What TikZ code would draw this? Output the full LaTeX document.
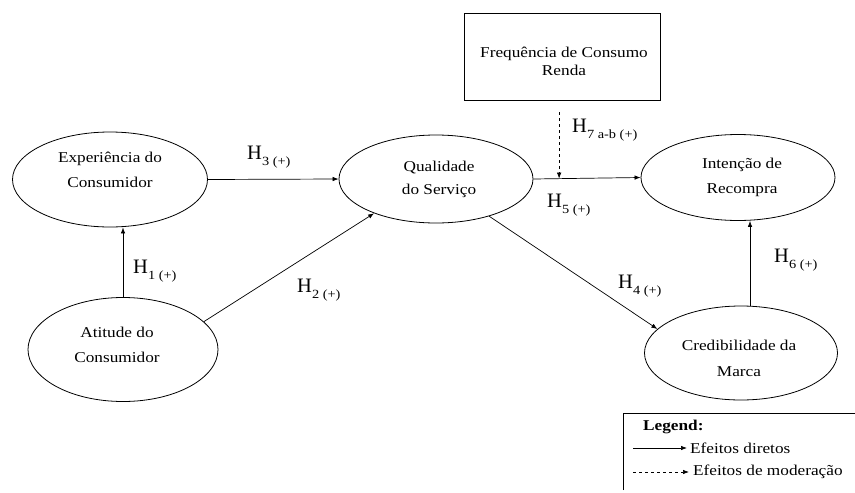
\documentclass[tikz,border=0pt]{standalone}
\usepackage{fontspec}
\setmainfont{Liberation Serif}[FakeStretch=1.15]
\newfontfamily\hfont{Liberation Serif}
\usetikzlibrary{shapes.geometric,calc,arrows.meta}
\newcommand\hh[1]{{\hfont H}\raisebox{-6.5pt}{\fontsize{12.5}{12.5}\selectfont #1}}
\tikzset{
  ell/.style={draw, ellipse, line width=0.8pt, inner sep=0pt},
  lbl/.style={align=center, font=\fontsize{15}{25}\selectfont, inner sep=0pt},
  arr/.style={-{Latex[length=6pt,width=4.5pt]}, line width=0.7pt},
  hyp/.style={anchor=base west, inner sep=0pt, font=\fontsize{20.5}{20.5}\selectfont},
  legtxt/.style={anchor=west, inner sep=0pt, font=\fontsize{15}{15}\selectfont},
}
\begin{document}
\begin{tikzpicture}[x=1pt,y=-1pt]
\useasboundingbox (0,0) rectangle (855,493);
% ellipses
\node[ell, minimum width=195pt, minimum height=95pt] (exp) at (110,179.5) {};
\node[lbl] (expt) at (110,170) {Experiência do\\Consumidor};
\node[ell, minimum width=194pt, minimum height=88pt] (qual) at (436,179) {};
\node[lbl, font=\fontsize{15}{23}\selectfont] (qualt) at (439,179) {Qualidade\\do Serviço};
\node[ell, minimum width=194pt, minimum height=86pt] (int) at (738,177.5) {};
\node[lbl] (intt) at (742,177) {Intenção de\\Recompra};
\node[ell, minimum width=190pt, minimum height=104pt] (att) at (123,349.5) {};
\node[lbl] (attt) at (117,345) {Atitude do\\Consumidor};
\node[ell, minimum width=193pt, minimum height=94pt] (cred) at (741,353) {};
\node[lbl, font=\fontsize{15}{26}\selectfont] (credt) at (739,358) {Credibilidade da\\Marca};
% moderator box
\node[draw, line width=0.8pt, minimum width=196pt, minimum height=87pt, inner sep=0pt] (box) at (562,56.5) {};
\node[lbl, font=\fontsize{15}{18}\selectfont] (boxt) at (564,61) {Frequência de Consumo\\Renda};
% connectors
\draw[arr] (exp.east) -- (qual.west);
\draw[arr] (att.north) -- (att.north |- exp.south);
\draw[arr] (att.19) -- (qual.209);
\draw[arr] (qual.325) -- (cred.164.5);
\draw[arr] (qual.east) -- (int.west);
\draw[arr] ([xshift=9pt]cred.north) -- ([xshift=9pt]cred.north |- int.south);
\coordinate (mod) at ($(qual.east)!0.24!(int.west)$);
\draw[arr, dashed] ([yshift=-12pt]box.south -| mod) -- (mod);
% hypothesis labels
\node[hyp] (h3) at (247,159) {\hh{3 (+)}};
\node[hyp] (h1) at (133,273) {\hh{1 (+)}};
\node[hyp] (h2) at (297,292) {\hh{2 (+)}};
\node[hyp] (h4) at (618,288) {\hh{4 (+)}};
\node[hyp] (h6) at (774,262) {\hh{6 (+)}};
\node[hyp] (h5) at (547,207) {\hh{5 (+)}};
\node[hyp] (h7) at (572,132) {\hh{7 a-b (+)}};
% legend
\coordinate (lgA) at (623,490);
\coordinate (lgB) at (623,413);
\coordinate (lgC) at (855,413);
\draw[line width=0.8pt] (lgA) -- (lgB) -- (lgC);
\node[legtxt, font=\fontsize{15}{15}\selectfont\bfseries] (lgt) at (643,427) {Legend:};
\coordinate (s1) at (633,448);
\coordinate (e1) at (687,448);
\draw[arr] (s1) -- (e1);
\node[legtxt] (t1) at (690,448) {Efeitos diretos};
\coordinate (s2) at (633,472);
\coordinate (e2) at (689,472);
\draw[arr, dashed] (s2) -- (e2);
\node[legtxt] (t2) at (693,472) {Efeitos de moderação};
\end{tikzpicture}
\end{document}
